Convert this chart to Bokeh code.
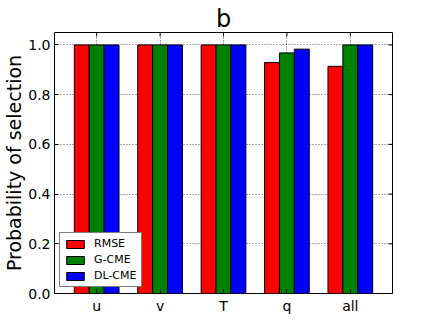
from bokeh.plotting import figure
from bokeh.models import (ColumnDataSource, FixedTicker, PrintfTickFormatter, Range1d,
                          Legend, LegendItem)
from bokeh.embed import file_html
from bokeh.resources import INLINE

categories = ["u", "v", "T", "q", "all"]
rmse = [1.0, 1.0, 1.0, 0.929, 0.914]
gcme = [1.0, 1.0, 1.0, 0.968, 1.0]
dlcme = [1.0, 1.0, 1.0, 0.983, 1.0]
y_ticks = [0.0, 0.2, 0.4, 0.6, 0.8, 1.0]

series = [("RMSE", rmse, "#ff0000"), ("G-CME", gcme, "#008000"), ("DL-CME", dlcme, "#0000ff")]

FONT = "DejaVu Sans"
bw = 0.235
xs = list(range(len(categories)))
x_lo, x_hi = -0.665, len(categories) - 1 + 0.665
y_lo, y_hi = 0.0, 1.05

p = figure(output_backend="svg", toolbar_location=None,
           x_range=Range1d(x_lo, x_hi), y_range=Range1d(y_lo, y_hi),
           frame_width=338, frame_height=261,
           min_border_left=47, min_border_right=35, min_border_top=32, min_border_bottom=25)

p.title.text = "b"
p.title.align = "center"
p.title.text_font = FONT
p.title.text_font_size = "24px"
p.title.text_font_style = "normal"
p.title.text_color = "black"
p.title.offset = 0
p.title.standoff = 0

items = []
for i, (name, vals, col) in enumerate(series):
    src = ColumnDataSource(dict(x=[x + (i - 1) * bw for x in xs], top=vals))
    r = p.vbar(x="x", top="top", bottom=0, width=bw, source=src, fill_color=col,
               line_color="black", line_width=1)
    items.append(LegendItem(label=name, renderers=[r]))

# mirrored inward ticks on top and right edges (clipped to the frame)
p.scatter(x=xs, y=[y_hi] * len(xs), marker="dash", angle=1.5708, size=8,
          line_color="black", line_width=1)
p.scatter(x=[x_hi] * len(y_ticks), y=y_ticks, marker="dash", angle=0, size=8,
          line_color="black", line_width=1)

p.outline_line_color = "black"
p.outline_line_width = 1

for ax in p.xaxis:
    ax.ticker = FixedTicker(ticks=xs)
    ax.major_label_overrides = {i: c for i, c in enumerate(categories)}
for ax in p.yaxis:
    ax.ticker = FixedTicker(ticks=y_ticks)
    ax.formatter = PrintfTickFormatter(format="%.1f")
    ax.axis_label = "Probability of selection"
    ax.axis_label_text_font = FONT
    ax.axis_label_text_font_size = "19px"
    ax.axis_label_text_font_style = "normal"
    ax.axis_label_text_color = "black"
    ax.axis_label_standoff = 0
for ax in list(p.xaxis) + list(p.yaxis):
    ax.major_label_text_font = FONT
    ax.major_label_text_font_size = "14px"
    ax.major_label_text_color = "black"
    ax.major_tick_in = 4
    ax.major_tick_out = 0
    ax.minor_tick_in = 0
    ax.minor_tick_out = 0
    ax.axis_line_color = None
    ax.major_tick_line_color = "black"
    ax.major_label_standoff = 4

p.xgrid.ticker = FixedTicker(ticks=xs)
p.ygrid.ticker = FixedTicker(ticks=y_ticks)
for g in (p.xgrid, p.ygrid):
    g.grid_line_color = "black"
    g.grid_line_alpha = 0.7
    g.grid_line_dash = "1 2"
    g.grid_line_width = 1

legend = Legend(items=items, location=(5, 6), orientation="vertical")
legend.label_text_font = FONT
legend.label_text_font_size = "11px"
legend.label_text_color = "black"
legend.glyph_width = 22
legend.glyph_height = 10
legend.label_height = 13
legend.label_standoff = 8
legend.spacing = 3
legend.padding = 4
legend.margin = 0
legend.border_line_color = "black"
legend.border_line_width = 1
legend.background_fill_alpha = 1
p.add_layout(legend, "center")

p.background_fill_color = "white"
p.border_fill_color = "white"

open("out.html", "w").write(file_html(p, INLINE))
